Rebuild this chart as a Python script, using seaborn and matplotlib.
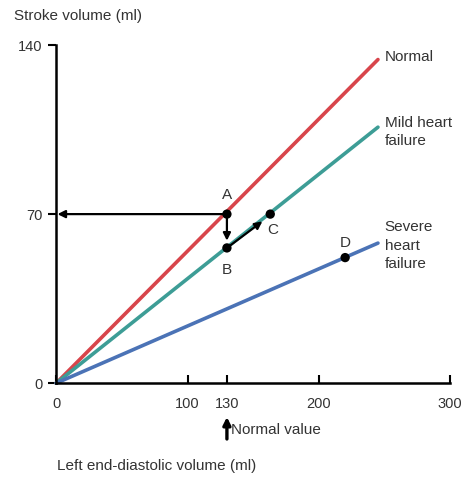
import numpy as np
import pandas as pd
import seaborn as sns
import matplotlib.pyplot as plt

# Frank-Starling style curves: stroke volume vs left end-diastolic volume
edv_ends = [0, 245]
normal_sv = [0, 134]
mild_sv = [0, 106]
severe_sv = [0, 58]

curve_names = ["Normal", "Mild heart\nfailure", "Severe\nheart\nfailure"]
curve_colors = ["#d8454b", "#3d9d96", "#4b73b6"]

point_labels = ["A", "B", "C", "D"]
point_x = [130, 130, 163, 220]
point_y = [70, 56, 70, 52]

x_ticks = [0, 100, 130, 200, 300]
y_ticks = [0, 70, 140]

sns.set_style("white")
plt.rcParams["font.family"] = ["Liberation Sans", "DejaVu Sans"]
txt = "#333333"

df = pd.concat([
    pd.DataFrame({"edv": edv_ends, "sv": normal_sv, "curve": curve_names[0]}),
    pd.DataFrame({"edv": edv_ends, "sv": mild_sv, "curve": curve_names[1]}),
    pd.DataFrame({"edv": edv_ends, "sv": severe_sv, "curve": curve_names[2]}),
])

fig = plt.figure(figsize=(4.68, 4.79), dpi=100)
ax = fig.add_axes([0.12, 0.2, 0.842, 0.706])

sns.lineplot(data=df, x="edv", y="sv", hue="curve", palette=curve_colors,
             linewidth=2.6, legend=False, ax=ax, clip_on=False)

# curve labels at the right end of each line
ends = [normal_sv[-1], mild_sv[-1], severe_sv[-1]]
shifts = [1, -2, -1]
for name, yv, sh in zip(curve_names, ends, shifts):
    ax.text(edv_ends[-1] + 5, yv + sh, name,
            ha="left", va="center", fontsize=11, color=txt, linespacing=1.45)

# arrows between points
arrow = dict(arrowstyle="-|>", color="black", lw=1.6, mutation_scale=11,
             shrinkA=0, shrinkB=0)
ax.annotate("", xy=(1, point_y[0]), xytext=(point_x[0], point_y[0]),
            arrowprops=arrow, annotation_clip=False)
ax.annotate("", xy=(point_x[1], point_y[1] + 3), xytext=(point_x[0], point_y[0]),
            arrowprops=arrow)
ax.annotate("", xy=(point_x[2] - 6, point_y[2] - 3), xytext=(point_x[1], point_y[1]),
            arrowprops=arrow)

sns.scatterplot(x=point_x, y=point_y, color="black", s=45, zorder=5, ax=ax,
                edgecolor="none")

offsets = {"A": (0, 8), "B": (0, -9), "C": (2, -6.5), "D": (0, 6)}
for lab, px, py in zip(point_labels, point_x, point_y):
    dx, dy = offsets[lab]
    ax.text(px + dx, py + dy, lab, ha="center", va="center", fontsize=11, color=txt)

ax.set_xlim(0, 300)
ax.set_ylim(0, 140)
ax.set_xticks(x_ticks)
ax.set_yticks(y_ticks)
ax.tick_params(axis="x", bottom=True, direction="in", length=6, width=1.5, pad=10,
               labelsize=10.5, labelcolor=txt, color="black")
ax.tick_params(axis="y", left=True, direction="out", length=6, width=1.5, pad=4,
               labelsize=10.5, labelcolor=txt, color="black")
for side in ["top", "right"]:
    ax.spines[side].set_visible(False)
for side in ["left", "bottom"]:
    ax.spines[side].set_linewidth(1.8)
    ax.spines[side].set_color("black")
ax.set_xlabel("")
ax.set_ylabel("")

# normal value marker under the x axis
ax.annotate("", xy=(130, -0.1), xytext=(130, -0.165),
            xycoords=("data", "axes fraction"), textcoords=("data", "axes fraction"),
            arrowprops=dict(arrowstyle="-|>", color="black", lw=2.4,
                            mutation_scale=11, shrinkA=0, shrinkB=0))
ax.text(133, -0.138, "Normal value", transform=ax.get_xaxis_transform(),
        ha="left", va="center", fontsize=11, color=txt)

fig.text(14 / 468, 1 - 16 / 479, "Stroke volume (ml)", ha="left", va="center",
         fontsize=11, color=txt)
fig.text(57 / 468, 1 - 466 / 479, "Left end-diastolic volume (ml)", ha="left",
         va="center", fontsize=11, color=txt)

fig.savefig("out.png", dpi=100)
